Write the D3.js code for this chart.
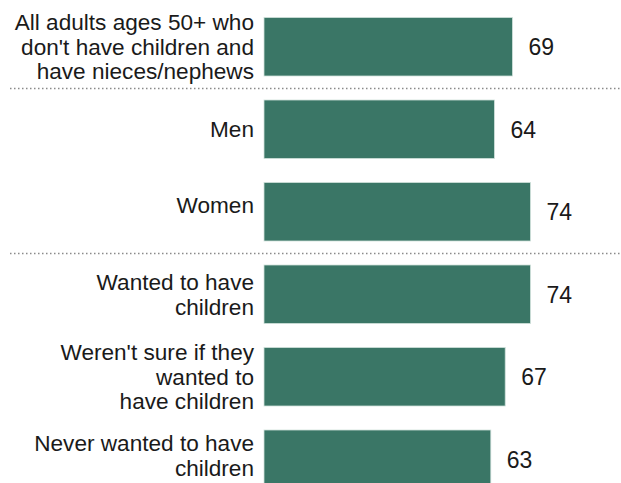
<!DOCTYPE html>
<html>
<head>
<meta charset="utf-8">
<script src="https://cdn.jsdelivr.net/npm/d3@7"></script>
<style>
  html, body { margin: 0; padding: 0; background: #fff; }
  svg { display: block; }
  text { font-family: "Liberation Sans", Arial, sans-serif; fill: #1a1a1a; }
</style>
</head>
<body>
<svg id="chart" width="621" height="483"></svg>
<script>
// Share of adults 50+ without children who have nieces/nephews, by group
const categories = [
  "All adults ages 50+ who|don't have children and|have nieces/nephews",
  "Men",
  "Women",
  "Wanted to have|children",
  "Weren't sure if they|wanted to|have children",
  "Never wanted to have|children"
];
const values = [69, 64, 74, 74, 67, 63];
// Dotted rules are drawn after these rows
const separatorsAfter = [0, 2];

const svg = d3.select("#chart");
const x0 = 264;
const x = d3.scaleLinear().domain([0, 100]).range([x0, x0 + 360]);
const y = d3.scaleBand()
  .domain(d3.range(categories.length))
  .range([17.5 - 12, 17.5 - 12 + 82.5 * categories.length])
  .paddingInner(24 / 82.5)
  .paddingOuter(12 / 82.5);

const barColor = "#3a7666";

svg.selectAll("rect.bar")
  .data(values)
  .join("rect")
  .attr("class", "bar")
  .attr("x", x(0))
  .attr("y", (d, i) => y(i))
  .attr("width", d => x(d) - x(0))
  .attr("height", y.bandwidth())
  .attr("fill", barColor)
  .attr("stroke", "#cfe0da")
  .attr("stroke-width", 0.8);

svg.selectAll("text.value")
  .data(values)
  .join("text")
  .attr("class", "value")
  .attr("x", d => x(d) + 16)
  .attr("y", (d, i) => y(i) + y.bandwidth() / 2)
  .attr("dy", "0.36em")
  .attr("font-size", 23)
  .text(d => d);

// Vertical nudges for labels that sit slightly above their bar's centre
const labelNudge = { "Women": -7, "Never wanted to have|children": -4 };
const lineH = 24.5;
svg.selectAll("text.cat")
  .data(categories)
  .join("text")
  .attr("class", "cat")
  .attr("text-anchor", "end")
  .attr("font-size", 22.6)
  .each(function (d, i) {
    const lines = d.split("|");
    const cy = y(i) + y.bandwidth() / 2 + (labelNudge[d] || 0);
    const start = cy - (lines.length - 1) * lineH / 2;
    d3.select(this).selectAll("tspan")
      .data(lines)
      .join("tspan")
      .attr("x", 254)
      .attr("y", (l, k) => start + k * lineH)
      .attr("dy", "0.36em")
      .text(l => l);
  });

svg.selectAll("line.sep")
  .data(separatorsAfter)
  .join("line")
  .attr("class", "sep")
  .attr("x1", 10)
  .attr("x2", 621)
  .attr("y1", i => (y(i) + y.bandwidth() + y(i + 1)) / 2 + 0.5)
  .attr("y2", i => (y(i) + y.bandwidth() + y(i + 1)) / 2 + 0.5)
  .attr("stroke", "#8a8a8a")
  .attr("stroke-width", 1.5)
  .attr("stroke-dasharray", "1.5,2.5");
</script>
</body>
</html>
